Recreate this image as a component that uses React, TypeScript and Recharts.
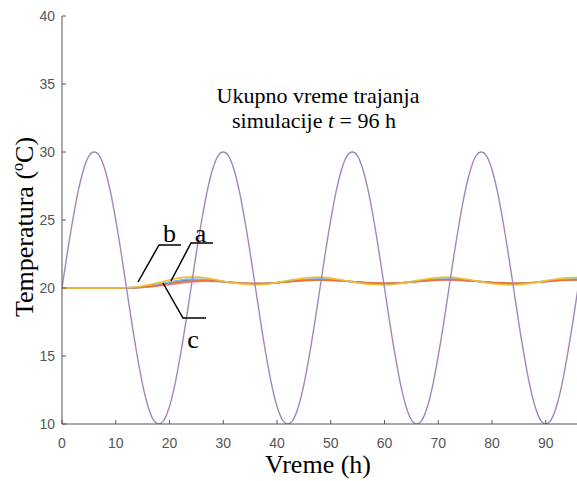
import { LineChart, Line, XAxis, YAxis } from "recharts";

// ambient temperature, hourly 0..96 h
const ambient = [
  20, 22.6, 25, 27.1, 28.7, 29.7, 30, 29.7, 28.7, 27.1, 25, 22.6, 20, 17.4, 15, 12.9, 11.3, 10.3, 10, 10.3, 11.3, 12.9, 15, 17.4,
  20, 22.6, 25, 27.1, 28.7, 29.7, 30, 29.7, 28.7, 27.1, 25, 22.6, 20, 17.4, 15, 12.9, 11.3, 10.3, 10, 10.3, 11.3, 12.9, 15, 17.4,
  20, 22.6, 25, 27.1, 28.7, 29.7, 30, 29.7, 28.7, 27.1, 25, 22.6, 20, 17.4, 15, 12.9, 11.3, 10.3, 10, 10.3, 11.3, 12.9, 15, 17.4,
  20, 22.6, 25, 27.1, 28.7, 29.7, 30, 29.7, 28.7, 27.1, 25, 22.6, 20, 17.4, 15, 12.9, 11.3, 10.3, 10, 10.3, 11.3, 12.9, 15, 17.4,
  20,
];

// room temperatures, every 3 h from 0 to 96 h
const yellowT = [20, 20, 20, 20, 20.02, 20.15, 20.4, 20.68, 20.82, 20.74, 20.5, 20.32, 20.24, 20.33, 20.55, 20.74, 20.8, 20.66, 20.45, 20.28, 20.22, 20.34, 20.55, 20.74, 20.8, 20.66, 20.45, 20.28, 20.22, 20.33, 20.54, 20.72, 20.78];
const lightBlueT = [20, 20, 20, 20, 20.01, 20.1, 20.3, 20.52, 20.66, 20.64, 20.48, 20.34, 20.28, 20.34, 20.5, 20.64, 20.68, 20.6, 20.45, 20.33, 20.29, 20.36, 20.52, 20.65, 20.69, 20.6, 20.45, 20.33, 20.29, 20.36, 20.51, 20.63, 20.67];
const blueT = [20, 20, 20, 20, 20.01, 20.08, 20.26, 20.47, 20.6, 20.6, 20.47, 20.35, 20.3, 20.35, 20.48, 20.6, 20.65, 20.58, 20.45, 20.35, 20.31, 20.37, 20.5, 20.62, 20.66, 20.58, 20.45, 20.35, 20.31, 20.37, 20.5, 20.6, 20.64];
const orangeT = [20, 20, 20, 20, 20, 20.06, 20.2, 20.38, 20.52, 20.55, 20.47, 20.37, 20.32, 20.36, 20.46, 20.56, 20.6, 20.56, 20.47, 20.38, 20.34, 20.38, 20.48, 20.58, 20.62, 20.56, 20.47, 20.38, 20.34, 20.38, 20.48, 20.57, 20.61];
const redT = [20, 20, 20, 20, 20, 20.04, 20.15, 20.3, 20.44, 20.5, 20.46, 20.38, 20.34, 20.37, 20.45, 20.53, 20.57, 20.54, 20.47, 20.4, 20.36, 20.39, 20.47, 20.55, 20.58, 20.54, 20.47, 20.4, 20.36, 20.39, 20.47, 20.55, 20.58];

const xTicks = [0, 10, 20, 30, 40, 50, 60, 70, 80, 90];
const yTicks = [10, 15, 20, 25, 30, 35, 40];

const ambientData = ambient.map((v, i) => ({ t: i, v }));
const toRows = (vals: number[]) => vals.map((v, i) => ({ t: i * 3, v }));

const AXIS = "#555";
const TICK_FONT = "'Liberation Sans', Arial, sans-serif";
const SERIF = "'Liberation Serif', 'Times New Roman', serif";

function XTick(props: any) {
  const { x, y, payload } = props;
  return (
    <g>
      <line x1={x} y1={y} x2={x} y2={y - 4} stroke={AXIS} strokeWidth={1} />
      <text x={x} y={y + 24} textAnchor="middle" fontSize={14} fontFamily={TICK_FONT} fill="#555">
        {payload.value}
      </text>
    </g>
  );
}

function YTick(props: any) {
  const { x, y, payload } = props;
  return (
    <g>
      <line x1={x} y1={y} x2={x + 4} y2={y} stroke={AXIS} strokeWidth={1} />
      <text x={x - 7} y={y + 5} textAnchor="end" fontSize={14} fontFamily={TICK_FONT} fill="#555">
        {payload.value}
      </text>
    </g>
  );
}

const series = [
  { key: "red", data: redT, color: "#e8868a" },
  { key: "blue", data: blueT, color: "#4a90c8" },
  { key: "lightBlue", data: lightBlueT, color: "#6cc7ef" },
  { key: "orange", data: orangeT, color: "#e8743c" },
  { key: "yellow", data: yellowT, color: "#f2c230" },
];

export default function App() {
  return (
    <div style={{ position: "relative", width: 577, height: 481, background: "#fff" }}>
      <style>{"body{margin:0}"}</style>
      <LineChart width={577} height={481} margin={{ top: 16, right: -1, bottom: 0, left: 0 }}>
        <XAxis
          type="number"
          dataKey="t"
          domain={[0, 96]}
          ticks={xTicks}
          allowDataOverflow
          height={57}
          tickSize={0}
          tickMargin={0}
          stroke={AXIS}
          tick={<XTick />}
        />
        <YAxis
          type="number"
          dataKey="v"
          domain={[10, 40]}
          ticks={yTicks}
          allowDataOverflow
          width={62}
          tickSize={0}
          tickMargin={0}
          stroke={AXIS}
          tick={<YTick />}
        />
        {series.map((s) => (
          <Line
            key={s.key}
            data={toRows(s.data)}
            dataKey="v"
            type="monotone"
            stroke={s.color}
            strokeWidth={1.6}
            dot={false}
            isAnimationActive={false}
          />
        ))}
        <Line
          data={ambientData}
          dataKey="v"
          type="monotone"
          stroke="#a286bb"
          strokeWidth={1.4}
          dot={false}
          isAnimationActive={false}
        />
      </LineChart>
      <svg width={577} height={481} style={{ position: "absolute", left: 0, top: 0, pointerEvents: "none" }}>
        <g fontFamily={SERIF} fill="#000">
          <text x={318} y={473} textAnchor="middle" fontSize={26}>Vreme (h)</text>
          <text transform="translate(33,227) rotate(-90)" textAnchor="middle" fontSize={26}>
            Temperatura (<tspan fontSize={16} dy={-10}>o</tspan><tspan dy={10}>C)</tspan>
          </text>
          <text x={318} y={103} textAnchor="middle" fontSize={22}>Ukupno vreme trajanja</text>
          <text x={314} y={128} textAnchor="middle" fontSize={22}>
            simulacije <tspan fontStyle="italic">t</tspan> = 96 h
          </text>
          <text x={169.5} y={242} textAnchor="middle" fontSize={26}>b</text>
          <text x={200.5} y={242} textAnchor="middle" fontSize={26}>a</text>
          <text x={193} y={348} textAnchor="middle" fontSize={26}>c</text>
        </g>
        <g stroke="#000" strokeWidth={1.5} fill="none">
          <polyline points="181,245 159,245 138,282" />
          <polyline points="213,243 191,243 171,281" />
          <polyline points="163,283 183,318 206,318" />
        </g>
      </svg>
    </div>
  );
}
